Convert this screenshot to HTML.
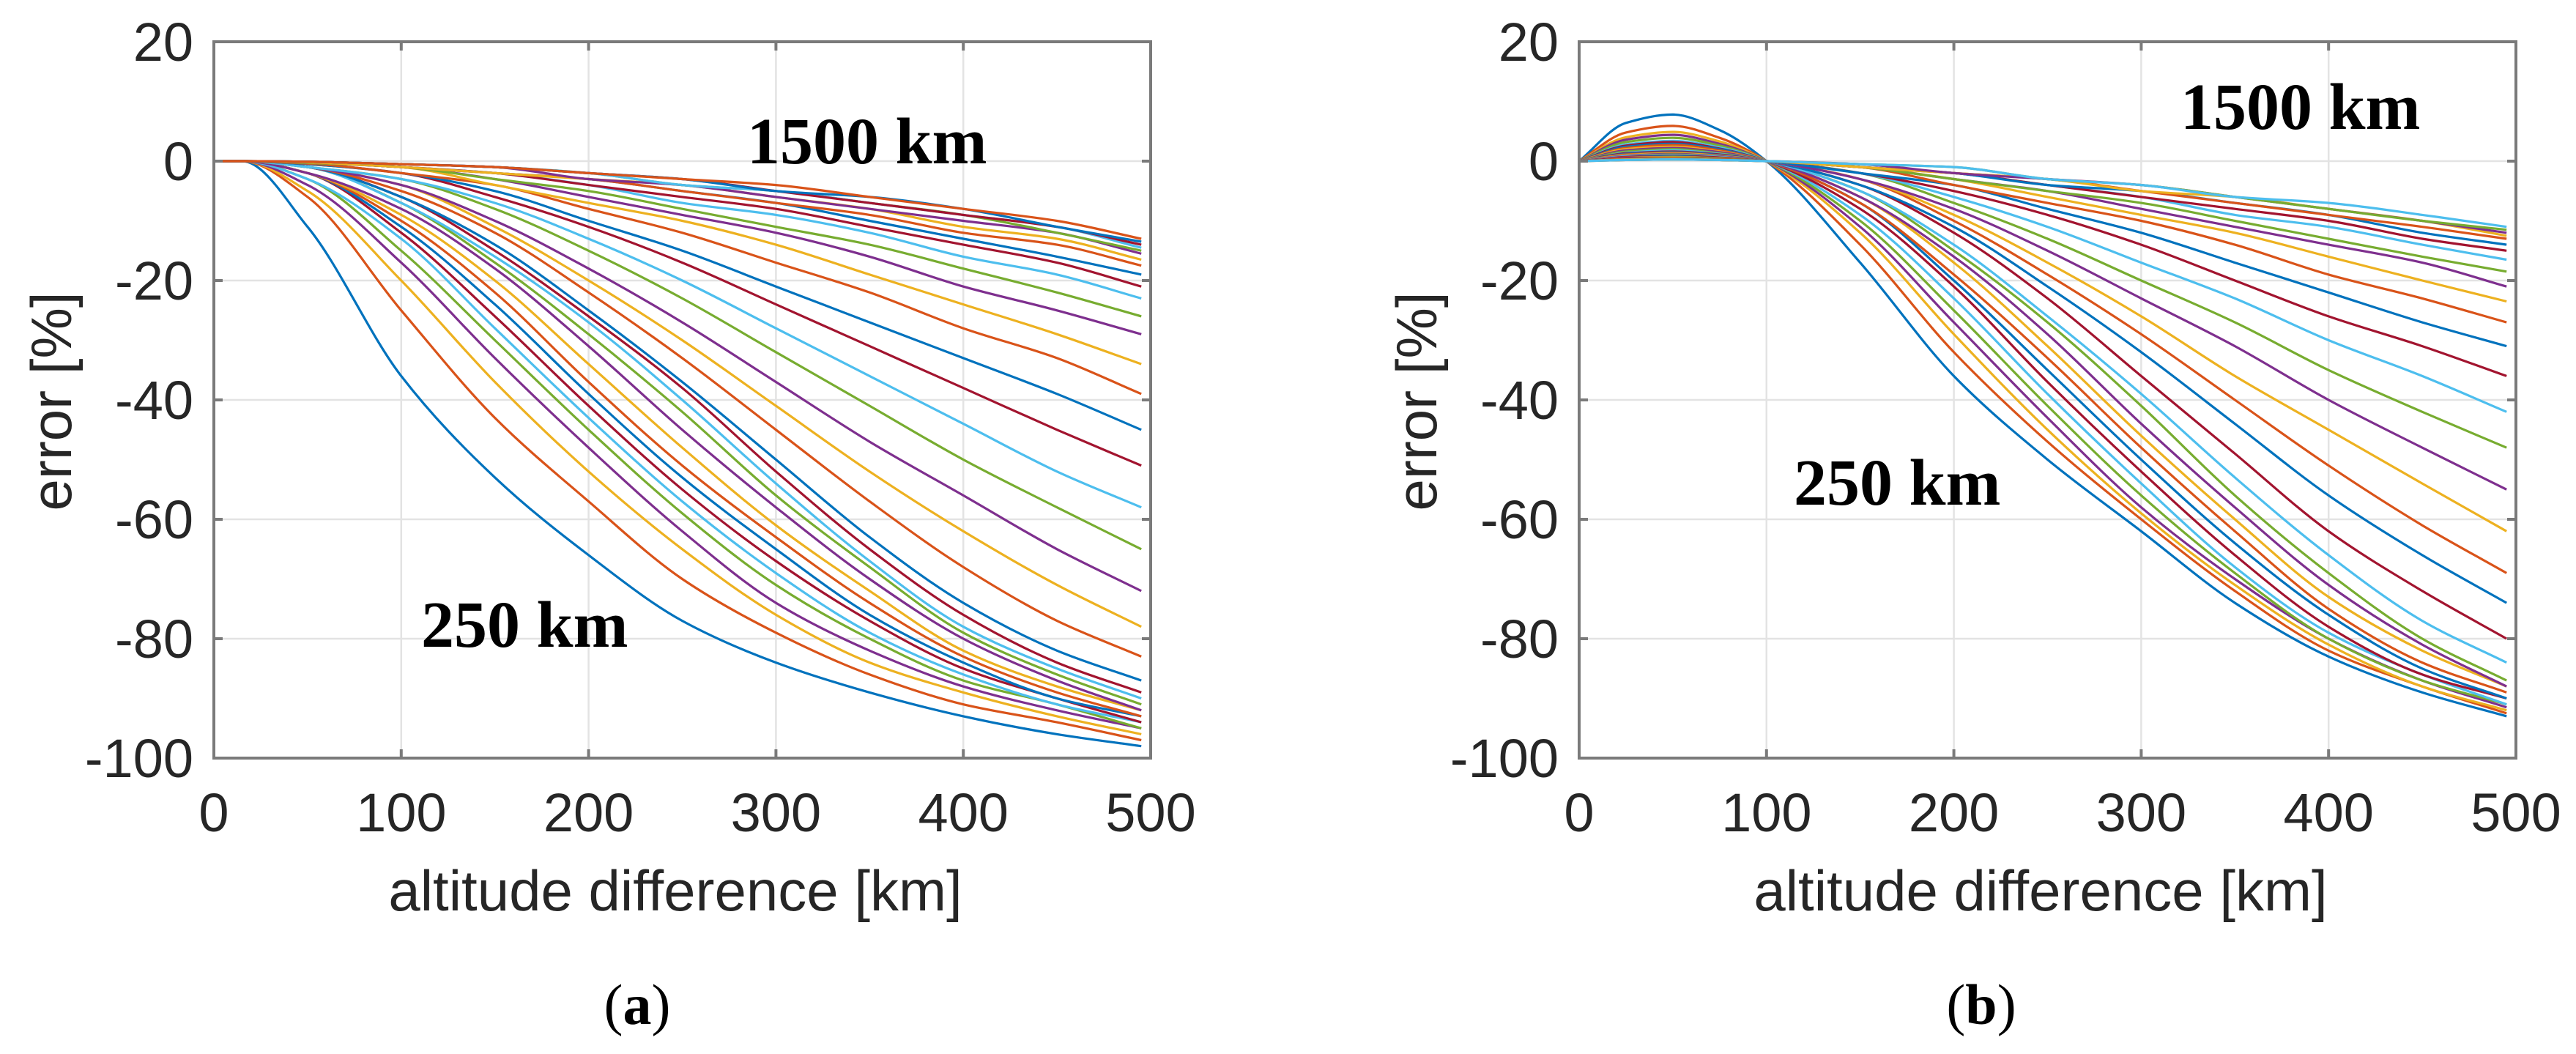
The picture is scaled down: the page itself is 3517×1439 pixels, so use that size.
<!DOCTYPE html>
<html><head><meta charset="utf-8"><style>
html,body{margin:0;padding:0;background:#fff;}
svg{display:block;}
.tick{font-family:"Liberation Sans",Arial,sans-serif;font-size:74px;fill:#262626;}
.axt{font-family:"Liberation Sans",Arial,sans-serif;font-size:78px;fill:#262626;}
.ann{font-family:"Liberation Serif","Times New Roman",serif;font-size:90px;font-weight:bold;fill:#000;}
.cap{font-family:"Liberation Serif","Times New Roman",serif;font-size:78px;fill:#000;}
</style></head><body>
<svg id="fig" width="3517" height="1439" viewBox="0 0 3517 1439" xmlns="http://www.w3.org/2000/svg"></svg>
<script>
// ---- data ----
const xTicks = [0,100,200,300,400,500];
const yTicks = [20,0,-20,-40,-60,-80,-100];
const seriesColors = ["#0072BD","#D95319","#EDB120","#7E2F8E","#77AC30","#4DBEEE","#A2142F"];

const xA = [0,15,50,100,150,200,250,300,350,400,450,495];
const seriesA = [
[0,0,-11,-36,-53,-66,-77,-84,-89,-93,-96,-98],
[0,0,-6,-25,-43,-57,-70,-79,-86,-91,-94,-97],
[0,0,-5,-20,-37,-52,-65,-76,-84,-89,-93,-96],
[0,0,-4,-17,-33,-48,-62,-74,-82,-88,-92,-95],
[0,0,-3,-15,-30,-45,-59,-71,-80,-87,-91,-95],
[0,0,-3,-13,-28,-43,-57,-69,-79,-86,-91,-94],
[0,0,-2,-12,-26,-41,-55,-67,-77,-85,-90,-94],
[0,0,-2,-11,-24,-39,-53,-65,-76,-84,-90,-93],
[0,0,-2,-10,-22,-37,-51,-63,-74,-83,-89,-93],
[0,0,-2,-9,-20,-34,-48,-61,-72,-82,-88,-92],
[0,0,-2,-8,-18,-31,-45,-58,-70,-80,-87,-92],
[0,0,-1,-7,-17,-29,-42,-56,-68,-79,-86,-91],
[0,0,-1,-7,-16,-27,-40,-54,-67,-78,-85,-90],
[0,0,-1,-6,-15,-26,-38,-52,-65,-76,-84,-89],
[0,0,-1,-6,-14,-25,-37,-50,-63,-74,-82,-87],
[0,0,-1,-5,-12,-22,-33,-45,-57,-68,-77,-83],
[0,0,-1,-4,-11,-20,-30,-41,-52,-62,-71,-78],
[0,0,-1,-4,-10,-18,-27,-37,-47,-56,-65,-72],
[0,0,-1,-3,-8,-15,-23,-32,-41,-50,-58,-65],
[0,0,-1,-3,-7,-13,-20,-28,-36,-44,-52,-58],
[0,0,-0.5,-2,-6,-11,-17,-24,-31,-38,-45,-51],
[0,0,-0.5,-2,-5,-10,-15,-21,-27,-33,-39,-45],
[0,0,-0.4,-2,-4,-8,-12,-17,-22,-28,-33,-39],
[0,0,-0.3,-1,-4,-7,-10,-14,-19,-24,-29,-34],
[0,0,-0.3,-1,-3,-6,-9,-12,-16,-21,-25,-29],
[0,0,-0.3,-1,-3,-5,-8,-11,-14,-18,-22,-26],
[0,0,-0.2,-1,-2,-4,-7,-9,-12,-16,-19,-23],
[0,0,-0.2,-1,-2,-4,-6,-8,-11,-14,-17,-21],
[0,0,-0.2,-1,-2,-3,-5,-7,-10,-13,-16,-19],
[0,0,-0.2,-1,-2,-3,-5,-7,-9,-12,-14,-17.5],
[0,0,-0.2,-1,-2,-3,-4,-6,-8,-11,-13,-16.5],
[0,0,-0.1,-0.5,-1,-3,-4,-6,-8,-10,-12,-15.5],
[0,0,-0.1,-0.5,-1,-2,-4,-5,-7,-9,-12,-15],
[0,0,-0.1,-0.5,-1,-2,-4,-5,-7,-9,-11,-14.5],
[0,0,-0.1,-0.5,-1,-2,-3,-5,-7,-9,-11,-14],
[0,0,-0.1,-0.5,-1,-2,-3,-5,-6,-8,-11,-13.5],
[0,0,-0.1,-0.5,-1,-2,-3,-4,-6,-8,-10,-13]
];

const xB = [0,25,50,75,100,150,200,250,300,350,400,450,495];
const seriesB = [
[0,6.4,7.8,5.2,0,-17,-36,-50,-62,-74,-83,-89,-93],
[0,4.8,5.9,3.9,0,-14,-32,-47,-60,-72,-82,-88,-92.5],
[0,4,4.9,3.3,0,-12,-29,-45,-59,-71,-81,-88,-92],
[0,3.6,4.4,2.9,0,-11,-27,-43,-58,-70,-80,-87,-91.5],
[0,3.2,3.9,2.6,0,-10,-25,-41,-56,-69,-80,-87,-91],
[0,2.8,3.4,2.3,0,-9,-23,-39,-54,-68,-79,-86,-91],
[0,2.6,3.2,2.1,0,-8,-21,-37,-52,-66,-78,-86,-90],
[0,2.4,2.9,2,0,-7,-20,-35,-50,-64,-76,-85,-90],
[0,2.2,2.7,1.8,0,-7,-19,-33,-48,-62,-75,-84,-89],
[0,2,2.4,1.6,0,-6,-17,-31,-46,-60,-73,-82,-88],
[0,1.8,2.2,1.5,0,-6,-16,-29,-44,-58,-71,-81,-88],
[0,1.6,2,1.3,0,-5,-15,-27,-41,-56,-69,-80,-87],
[0,1.4,1.8,1.2,0,-5,-14,-26,-39,-53,-66,-77,-84],
[0,1.3,1.6,1.1,0,-4,-12,-23,-36,-49,-62,-72,-80],
[0,1.2,1.5,1,0,-4,-11,-21,-32,-44,-56,-66,-74],
[0,1.1,1.4,0.9,0,-3,-10,-19,-29,-40,-51,-61,-69],
[0,1,1.3,0.9,0,-3,-9,-17,-26,-36,-45,-54,-62],
[0,0.9,1.2,0.8,0,-3,-8,-15,-23,-31,-40,-48,-55],
[0,0.8,1.1,0.7,0,-2,-7,-13,-20,-27,-35,-42,-48],
[0,0.8,1,0.7,0,-2,-6,-11,-17,-23,-30,-36,-42],
[0,0.7,0.9,0.6,0,-2,-5,-9,-14,-20,-26,-31,-36],
[0,0.6,0.8,0.5,0,-2,-4,-8,-12,-17,-22,-27,-31],
[0,0.6,0.7,0.5,0,-1,-4,-7,-10,-14,-19,-23,-27],
[0,0.5,0.7,0.4,0,-1,-3,-6,-9,-12,-16,-20,-23.5],
[0,0.5,0.6,0.4,0,-1,-3,-5,-8,-11,-14,-17,-21],
[0,0.4,0.6,0.4,0,-1,-3,-5,-7,-10,-13,-16,-18.5],
[0,0.4,0.5,0.3,0,-1,-2,-4,-6,-9,-11,-14,-16.5],
[0,0.4,0.5,0.3,0,-1,-2,-4,-6,-8,-10,-13,-15],
[0,0.3,0.4,0.3,0,-1,-2,-4,-5,-7,-9,-12,-14],
[0,0.3,0.4,0.3,0,-1,-2,-3,-5,-7,-9,-11,-13],
[0,0.3,0.4,0.2,0,-1,-2,-3,-5,-6,-8,-10,-12.5],
[0,0.2,0.3,0.2,0,-0.5,-2,-3,-4,-6,-8,-10,-12],
[0,0.2,0.3,0.2,0,-0.5,-1,-3,-4,-6,-8,-10,-11.5],
[0,0.2,0.3,0.2,0,-0.5,-1,-3,-4,-6,-7,-9,-11]
];

// ---- drawing ----
const NS = "http://www.w3.org/2000/svg";
const svg = document.getElementById("fig");
function mk(tag, attrs, parent){
  const e = document.createElementNS(NS, tag);
  for (const k in attrs) e.setAttribute(k, attrs[k]);
  (parent||svg).appendChild(e);
  return e;
}

// monotone cubic (Fritsch-Carlson) path through pixel points
function monoPath(pts){
  const n = pts.length;
  const dx = [], sl = [];
  for (let i = 0; i < n - 1; i++) { dx.push(pts[i+1][0] - pts[i][0]); sl.push((pts[i+1][1] - pts[i][1]) / dx[i]); }
  const m = new Array(n);
  m[0] = sl[0]; m[n-1] = sl[n-2];
  for (let i = 1; i < n - 1; i++) {
    if (sl[i-1] * sl[i] <= 0) m[i] = 0;
    else { const w1 = 2*dx[i] + dx[i-1], w2 = dx[i] + 2*dx[i-1]; m[i] = (w1 + w2) / (w1 / sl[i-1] + w2 / sl[i]); }
  }
  let d = "M" + pts[0][0].toFixed(1) + "," + pts[0][1].toFixed(1);
  for (let i = 0; i < n - 1; i++) {
    const h = dx[i] / 3;
    d += " C" + (pts[i][0] + h).toFixed(1) + "," + (pts[i][1] + m[i]*h).toFixed(1) + " " +
         (pts[i+1][0] - h).toFixed(1) + "," + (pts[i+1][1] - m[i+1]*h).toFixed(1) + " " +
         pts[i+1][0].toFixed(1) + "," + pts[i+1][1].toFixed(1);
  }
  return d;
}

function drawPanel(id, L, xs, series, ann1, ann2, capText, capX){
  const T = 57, B = 1035, R = L + 1279;
  const X = v => L + (v - 0) / 500 * (R - L);
  const Y = v => T + (20 - v) / 120 * (B - T);
  const g = mk("g", {});
  
  
  const cp = mk("clipPath", {id: "clip" + id}, g);
  mk("rect", {x: L, y: T, width: R - L, height: B - T}, cp);
  const grid = mk("g", {stroke: "#e3e3e3", "stroke-width": 2.5}, g);
  
  
  xTicks.forEach(v => mk("line", {x1: X(v), x2: X(v), y1: T, y2: B}, grid));
  yTicks.forEach(v => mk("line", {x1: L, x2: R, y1: Y(v), y2: Y(v)}, grid));
  const cg = mk("g", {"clip-path": "url(#clip" + id + ")", fill: "none", "stroke-width": 3.2, "stroke-linejoin": "round"}, g);
  
  
  series.forEach((ys, i) => {
    const pts = xs.map((x, j) => [X(x), Y(ys[j])]);
    const p = mk("path", {d: monoPath(pts), stroke: seriesColors[i % 7]}, cg);
    
    
  });
  const ax = mk("g", {stroke: "#7a7a7a", "stroke-width": 4, fill: "none"}, g);
  
  
  mk("rect", {x: L, y: T, width: R - L, height: B - T}, ax);
  xTicks.forEach(v => { mk("line", {x1: X(v), x2: X(v), y1: B, y2: B - 12}, ax); mk("line", {x1: X(v), x2: X(v), y1: T, y2: T + 12}, ax); });
  yTicks.forEach(v => { mk("line", {x1: L, x2: L + 12, y1: Y(v), y2: Y(v)}, ax); mk("line", {x1: R, x2: R - 12, y1: Y(v), y2: Y(v)}, ax); });
  xTicks.forEach(v => {
    const t = mk("text", {x: X(v), y: 1135, "text-anchor": "middle", class: "tick"}, g);
    t.textContent = v;
    
    
  });
  yTicks.forEach(v => {
    const t = mk("text", {x: L - 28, y: Y(v) + 26, "text-anchor": "end", class: "tick"}, g);
    t.textContent = v;
    
    
  });
  const xt = mk("text", {x: L + 630, y: 1243, "text-anchor": "middle", class: "axt"}, g);
  xt.textContent = "altitude difference [km]";
  
  
  const yt = mk("text", {x: 0, y: 0, "text-anchor": "middle", class: "axt", transform: "translate(" + (L - 195) + "," + 548 + ") rotate(-90)"}, g);
  yt.textContent = "error [%]";
  
  
  const a1 = mk("text", {x: ann1[0], y: ann1[1], class: "ann"}, g);
  a1.textContent = "1500 km";
  
  
  const a2 = mk("text", {x: ann2[0], y: ann2[1], class: "ann"}, g);
  a2.textContent = "250 km";
  
  
  const c = mk("text", {x: capX, y: 1398, "text-anchor": "middle", class: "cap"}, g);
  c.innerHTML = '(<tspan font-weight="bold">' + capText + '</tspan>)';
  
  
}

drawPanel("a", 292, xA, seriesA, [1020, 223], [575, 883], "a", 870);
drawPanel("b", 2156, xB, seriesB, [2977, 176], [2449, 689], "b", 2705);
</script>
</body></html>
